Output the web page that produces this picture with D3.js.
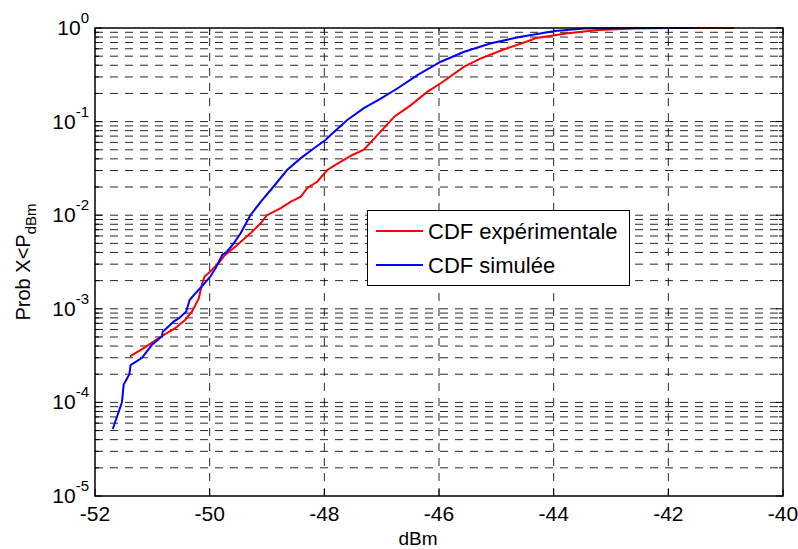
<!DOCTYPE html>
<html>
<head>
<meta charset="utf-8">
<script src="https://cdn.jsdelivr.net/npm/d3@7"></script>
<style>
  body { margin: 0; background: #fff; }
  svg { display: block; font-family: Arial, "Liberation Sans", sans-serif; }
</style>
</head>
<body>
<svg id="chart" width="798" height="549"></svg>
<script>
// ---- data ----
const xTicks = [-52, -50, -48, -46, -44, -42, -40];
const yDecades = [-5, -4, -3, -2, -1, 0];

const expX = [-51.39, -51.15, -50.86, -50.60, -50.43, -50.31, -50.19, -50.13, -50.09, -49.99, -49.87,
  -49.73, -49.52, -49.29, -49.11, -49.00, -48.76, -48.59, -48.41, -48.30, -48.12, -47.95, -47.71,
  -47.51, -47.31, -47.01, -46.78, -46.49, -46.20, -45.97, -45.56, -45.27, -44.86, -44.39, -44.33,
  -43.75, -43.22, -42.59, -42.0, -40.86];
const expY = [3.1e-4, 3.8e-4, 5.0e-4, 6.2e-4, 7.6e-4, 9.3e-4, 1.29e-3, 1.87e-3, 2.2e-3, 2.5e-3, 2.95e-3,
  3.76e-3, 4.8e-3, 6.4e-3, 8.2e-3, 1.0e-2, 1.19e-2, 1.39e-2, 1.58e-2, 1.94e-2, 2.29e-2, 3.04e-2, 3.73e-2,
  4.4e-2, 5.0e-2, 7.9e-2, 0.113, 0.150, 0.209, 0.257, 0.386, 0.474, 0.592, 0.744, 0.776,
  0.877, 0.95, 0.99, 1.0, 1.0];

const simX = [-51.69, -51.53, -51.50, -51.40, -51.38, -51.18, -51.01, -50.83, -50.82, -50.69, -50.63,
  -50.54, -50.41, -50.35, -50.25, -50.15, -50.05, -49.99, -49.90, -49.78, -49.70, -49.58, -49.46,
  -49.29, -49.11, -48.91, -48.65, -48.41, -48.18, -47.98, -47.89, -47.60, -47.31, -47.01, -46.72,
  -46.37, -45.97, -45.56, -45.09, -44.62, -44.39, -43.98, -43.46, -42.7, -41.59];
const simY = [5.2e-5, 1.0e-4, 1.55e-4, 2.0e-4, 2.5e-4, 3.0e-4, 4.1e-4, 5.1e-4, 5.7e-4, 6.7e-4, 7.3e-4,
  7.9e-4, 9.3e-4, 1.24e-3, 1.46e-3, 1.7e-3, 2.0e-3, 2.2e-3, 2.7e-3, 3.76e-3, 4.07e-3, 5.0e-3, 6.4e-3,
  1.0e-2, 1.39e-2, 1.94e-2, 3.04e-2, 4.07e-2, 5.19e-2, 6.36e-2, 7.2e-2, 0.104, 0.139, 0.177, 0.227,
  0.315, 0.436, 0.558, 0.686, 0.795, 0.84, 0.93, 0.99, 1.0, 1.0];

const legendLabels = ["CDF expérimentale", "CDF simulée"];
const seriesColors = ["#ff0000", "#0000ff"];

// ---- layout ----
const svg = d3.select("#chart");
const L = 95, R = 783, T = 28, B = 496;
const x = d3.scaleLinear().domain([-52, -40]).range([L, R]);
const y = d3.scaleLog().domain([1e-5, 1]).range([B, T]);

const yMinor = [];
yDecades.slice(0, -1).forEach(d => {
  for (let m = 2; m <= 9; m++) yMinor.push(m * Math.pow(10, d));
});
const yMajor = yDecades.map(d => Math.pow(10, d));

// grid
const grid = svg.append("g").attr("stroke", "#000").attr("stroke-width", 1)
  .attr("stroke-dasharray", "8,7").attr("fill", "none");
grid.selectAll(".hg").data(yMinor.concat(yMajor.slice(1, -1))).join("line")
  .attr("x1", L).attr("x2", R).attr("y1", d => y(d)).attr("y2", d => y(d))
  .attr("stroke-opacity", 0.85);
grid.selectAll(".vg").data(xTicks.slice(1, -1)).join("line")
  .attr("y1", B).attr("y2", T).attr("x1", d => x(d)).attr("x2", d => x(d))
  .attr("stroke-opacity", 0.85);

// ticks
const tk = svg.append("g").attr("stroke", "#000").attr("stroke-width", 1);
xTicks.forEach(v => {
  tk.append("line").attr("x1", x(v)).attr("x2", x(v)).attr("y1", B).attr("y2", B - 7);
  tk.append("line").attr("x1", x(v)).attr("x2", x(v)).attr("y1", T).attr("y2", T + 7);
});
yMajor.forEach(v => {
  tk.append("line").attr("x1", L).attr("x2", L + 7).attr("y1", y(v)).attr("y2", y(v));
  tk.append("line").attr("x1", R).attr("x2", R - 7).attr("y1", y(v)).attr("y2", y(v));
});
yMinor.forEach(v => {
  tk.append("line").attr("x1", L).attr("x2", L + 4).attr("y1", y(v)).attr("y2", y(v));
  tk.append("line").attr("x1", R).attr("x2", R - 4).attr("y1", y(v)).attr("y2", y(v));
});

// curves
const line = d3.line().x(d => x(d[0])).y(d => y(d[1]));
const expData = expX.map((v, i) => [v, expY[i]]);
const simData = simX.map((v, i) => [v, simY[i]]);
svg.append("path").datum(expData).attr("d", line)
  .attr("fill", "none").attr("stroke", seriesColors[0]).attr("stroke-width", 2);
svg.append("path").datum(simData).attr("d", line)
  .attr("fill", "none").attr("stroke", seriesColors[1]).attr("stroke-width", 2);

// axes box
svg.append("rect").attr("x", L).attr("y", T).attr("width", R - L).attr("height", B - T)
  .attr("fill", "none").attr("stroke", "#000").attr("stroke-width", 1.5);

// tick labels
svg.append("g").selectAll("text").data(xTicks).join("text")
  .attr("x", d => x(d)).attr("y", 521).attr("text-anchor", "middle")
  .attr("font-size", 21).text(d => d);

const yl = svg.append("g").selectAll("text").data(yDecades).join("text")
  .attr("x", 89).attr("y", d => y(Math.pow(10, d)) + 7).attr("text-anchor", "end")
  .attr("font-size", 21);
yl.append("tspan").text("10");
yl.append("tspan").attr("dy", -12).attr("font-size", 15).text(d => d);

// axis labels
svg.append("text").attr("x", 418).attr("y", 545).attr("text-anchor", "middle")
  .attr("font-size", 19).text("dBm");
const ylab = svg.append("text").attr("transform", "translate(30,262) rotate(-90)")
  .attr("text-anchor", "middle").attr("font-size", 20);
ylab.append("tspan").text("Prob X<P");
ylab.append("tspan").attr("dy", 6).attr("font-size", 15).text("dBm");

// legend
const lg = svg.append("g");
lg.append("rect").attr("x", 367.5).attr("y", 210.5).attr("width", 262).attr("height", 75)
  .attr("fill", "#fff").attr("stroke", "#000").attr("stroke-width", 1);
legendLabels.forEach((t, i) => {
  const yy = 231 + i * 34;
  lg.append("line").attr("x1", 376).attr("x2", 423).attr("y1", yy).attr("y2", yy)
    .attr("stroke", seriesColors[i]).attr("stroke-width", 2);
  lg.append("text").attr("x", 428).attr("y", yy + 8).attr("font-size", 22).text(t);
});
</script>
</body>
</html>
